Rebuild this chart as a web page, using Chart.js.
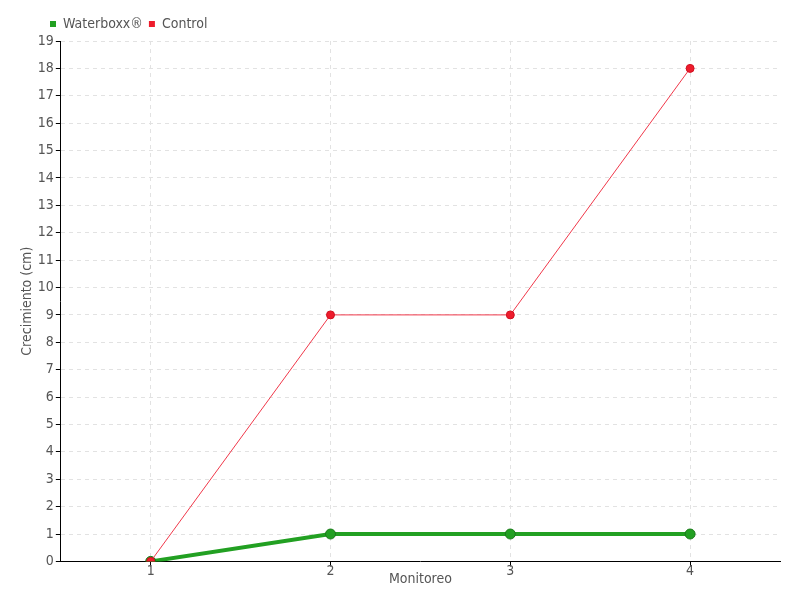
<!DOCTYPE html>
<html>
<head>
<meta charset="utf-8">
<script src="https://cdn.jsdelivr.net/npm/chart.js@4"></script>
<style>
  html, body { margin: 0; padding: 0; background: #fff; }
  #wrap { width: 800px; height: 600px; }
</style>
</head>
<body>
<div id="wrap"><canvas id="my-chart"></canvas></div>
<script>
const monitoreos = ['1', '2', '3', '4'];
const waterboxx = [0, 1, 1, 1];
const control = [0, 9, 9, 18];

const fontFamily = '"Liberation Sans Narrow", "DejaVu Sans Condensed", sans-serif';
const textColor = '#555';

const ctx = document.getElementById('my-chart').getContext('2d');
const chart = new Chart(ctx, {
  type: 'line',
  data: {
    labels: monitoreos,
    datasets: [
      {
        label: 'Waterboxx®',
        data: waterboxx,
        borderColor: '#22a022',
        backgroundColor: '#22a022',
        borderWidth: 4,
        pointRadius: 5,
        pointBorderColor: '#1a7a1a',
        pointBorderWidth: 1,
        pointBackgroundColor: '#22a022',
        order: 2
      },
      {
        label: 'Control',
        data: control,
        borderColor: '#f0384a',
        backgroundColor: '#ee1c2c',
        borderWidth: 1,
        pointRadius: 4,
        pointBorderColor: '#d01020',
        pointBackgroundColor: '#ee1c2c',
        order: 1
      }
    ]
  },
  options: {
    responsive: true,
    maintainAspectRatio: false,
    animation: false,
    layout: { padding: { left: 19, right: 20, top: 11, bottom: 12 } },
    plugins: {
      tooltip: { enabled: false },
      legend: {
        position: 'top',
        align: 'start',
        labels: {
          boxWidth: 6,
          boxHeight: 6,
          padding: 6,
          color: textColor,
          font: { family: fontFamily, size: 14 },
          sort: (a, b) => a.datasetIndex - b.datasetIndex,
          generateLabels: (c) => Chart.defaults.plugins.legend.labels.generateLabels(c)
            .map(item => Object.assign(item, { lineWidth: 0 }))
        }
      }
    },
    scales: {
      x: {
        offset: true,
        border: { color: '#000', dash: [4, 4] },
        grid: { color: '#e2e2e2', tickColor: '#000', tickLength: 5, offset: false },
        ticks: { color: textColor, font: { family: fontFamily, size: 14 }, padding: -3 },
        title: {
          display: true,
          text: 'Monitoreo',
          color: textColor,
          padding: { top: -6, bottom: 0 },
          font: { family: fontFamily, size: 14 }
        }
      },
      y: {
        min: 0,
        max: 19,
        border: { color: '#000', dash: [4, 4] },
        grid: { color: '#e2e2e2', tickColor: '#000', tickLength: 5 },
        ticks: { stepSize: 1, color: textColor, font: { family: fontFamily, size: 14 }, padding: 2 },
        title: {
          display: true,
          text: 'Crecimiento (cm)',
          color: textColor,
          padding: 0,
          font: { family: fontFamily, size: 14 }
        }
      }
    }
  },
  plugins: [{
    id: 'legendShift',
    afterLayout(c) {
      c.legend.left += 25;
    }
  }]
});
</script>
</body>
</html>
